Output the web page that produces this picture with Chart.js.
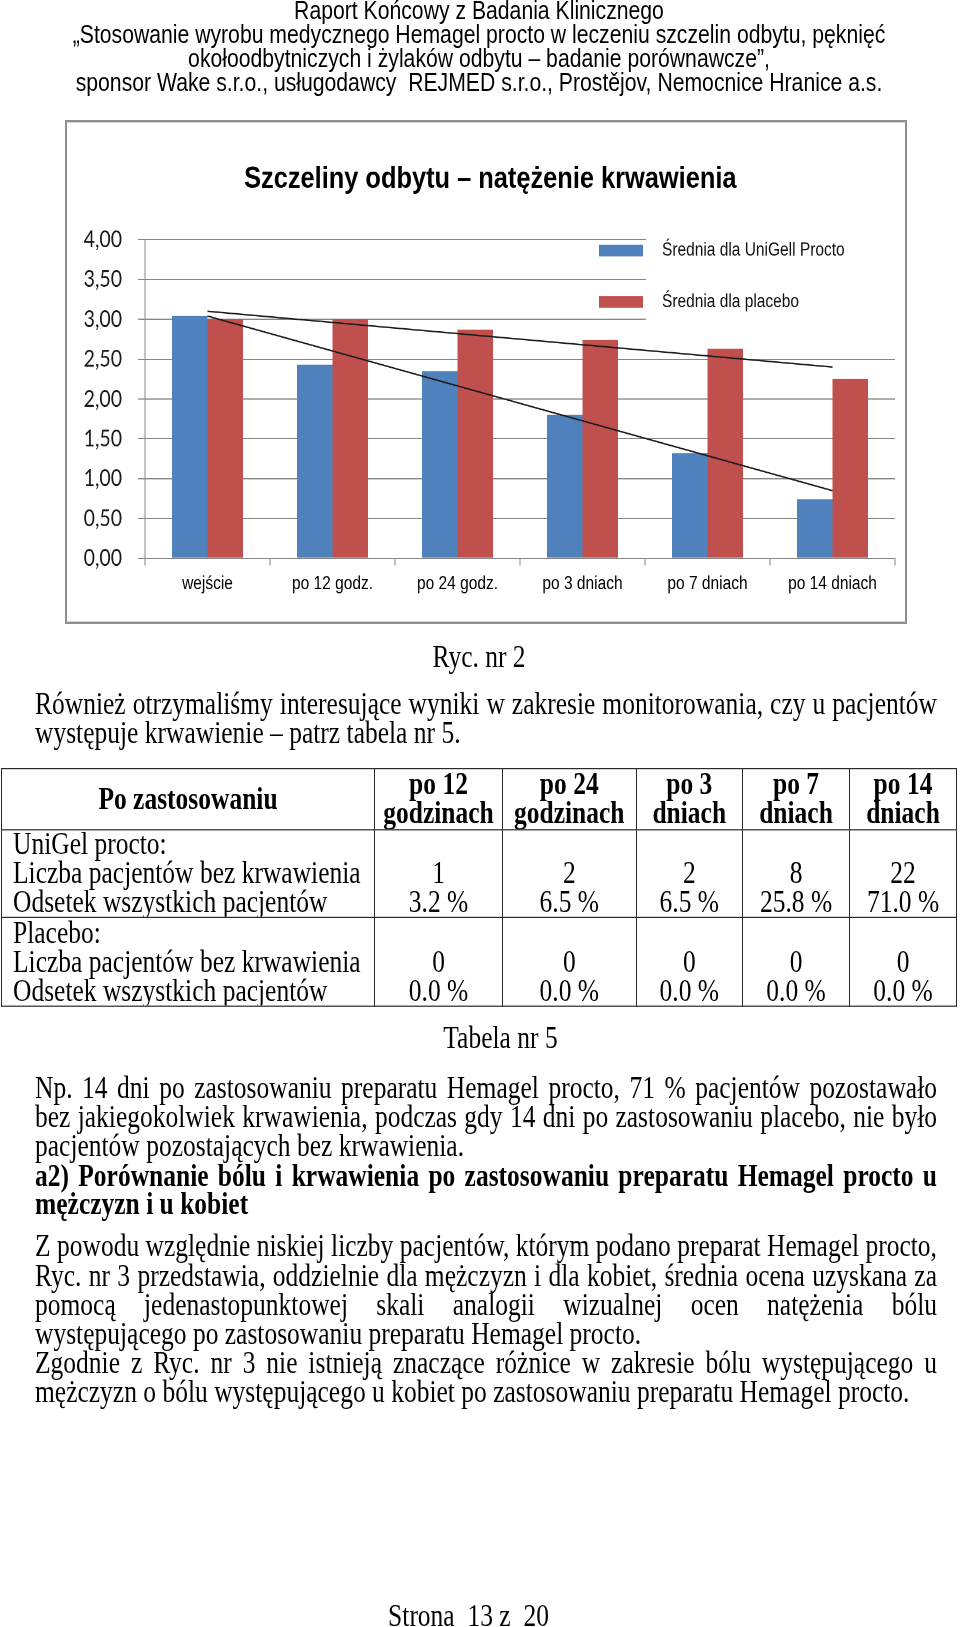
<!DOCTYPE html>
<html lang="pl">
<head>
<meta charset="utf-8">
<script src="https://cdn.jsdelivr.net/npm/chart.js@4/dist/chart.umd.min.js"></script>
<style>
html{margin:0;padding:0;background:#fff;overflow:hidden;}
body{margin:0;padding:0;background:#fff;width:960px;height:1627px;position:relative;}
#page{position:absolute;left:0;top:0;width:960px;height:1356px;transform:scaleY(1.2);transform-origin:0 0;color:#000;}
.hd{position:absolute;left:0;width:958px;text-align:center;font-family:"Liberation Sans",Arial,sans-serif;font-size:21.2px;line-height:20px;white-space:pre;}
.tx{position:absolute;left:35px;width:902px;font-family:"Liberation Serif","Times New Roman",serif;font-size:25.5px;line-height:24px;white-space:normal;}
.j{text-align:justify;text-align-last:justify;}
.b{font-weight:bold;}
.ctr{position:absolute;font-family:"Liberation Serif","Times New Roman",serif;font-size:25.5px;line-height:24px;text-align:center;white-space:pre;}
#frame{position:absolute;left:65px;top:100px;width:842px;height:420px;box-sizing:border-box;border:2px solid #8f8f8f;background:#fff;}
#c{display:block;width:838px;height:416px;}
#tb{position:absolute;left:1px;top:639.5px;width:955px;border-collapse:collapse;table-layout:fixed;font-family:"Liberation Serif","Times New Roman",serif;font-size:25.5px;line-height:24px;}
#tb td,#tb th{border:1.5px solid #2a2a2a;padding:0;vertical-align:middle;text-align:center;overflow:hidden;white-space:nowrap;}
#tb th{font-weight:bold;}
#tb td.c1{text-align:left;padding-left:11px;}
</style>
</head>
<body>
<div id="page">
  <div class="hd" style="top:-1.3px">Raport Końcowy z Badania Klinicznego</div>
  <div class="hd" style="top:18.5px">„Stosowanie wyrobu medycznego Hemagel procto w leczeniu szczelin odbytu, pęknięć</div>
  <div class="hd" style="top:39.2px">okołoodbytniczych i żylaków odbytu – badanie porównawcze”,</div>
  <div class="hd" style="top:59.2px">sponsor Wake s.r.o., usługodawcy  REJMED s.r.o., Prostějov, Nemocnice Hranice a.s.</div>

  <div id="frame"><canvas id="c" width="838" height="416"></canvas></div>

  <div class="ctr" style="left:379px;width:200px;top:536px">Ryc. nr 2</div>
  <div class="tx j" style="top:575px">Również otrzymaliśmy interesujące wyniki w zakresie monitorowania, czy u pacjentów</div>
  <div class="tx" style="top:599px">występuje krwawienie – patrz tabela nr 5.</div>

  <table id="tb"></table>

  <div class="ctr" style="left:400px;width:201px;top:853px">Tabela nr 5</div>

  <div class="tx j" style="top:894.7px">Np. 14 dni po zastosowaniu preparatu Hemagel procto, 71 % pacjentów pozostawało</div>
  <div class="tx j" style="top:919px">bez jakiegokolwiek krwawienia, podczas gdy 14 dni po zastosowaniu placebo, nie było</div>
  <div class="tx" style="top:943.4px">pacjentów pozostających bez krwawienia.</div>
  <div class="tx j b" style="top:967.8px">a2) Porównanie bólu i krwawienia po zastosowaniu preparatu Hemagel procto u</div>
  <div class="tx b" style="top:992px">mężczyzn i u kobiet</div>
  <div class="tx j" style="top:1027.3px">Z powodu względnie niskiej liczby pacjentów, którym podano preparat Hemagel procto,</div>
  <div class="tx j" style="top:1051.7px">Ryc. nr 3 przedstawia, oddzielnie dla mężczyzn i dla kobiet, średnia ocena uzyskana za</div>
  <div class="tx j" style="top:1076px">pomocą jedenastopunktowej skali analogii wizualnej ocen natężenia bólu</div>
  <div class="tx" style="top:1100px">występującego po zastosowaniu preparatu Hemagel procto.</div>
  <div class="tx j" style="top:1124.1px">Zgodnie z Ryc. nr 3 nie istnieją znaczące różnice w zakresie bólu występującego u</div>
  <div class="tx" style="top:1148.4px">mężczyzn o bólu występującego u kobiet po zastosowaniu preparatu Hemagel procto.</div>

  <div class="ctr" style="left:368.5px;width:200px;top:1334.7px">Strona  13 z  20</div>
</div>

<script>
// ---- chart data ----
const categories = ['wejście', 'po 12 godz.', 'po 24 godz.', 'po 3 dniach', 'po 7 dniach', 'po 14 dniach'];
const seriesLabels = ['Średnia dla UniGell Procto', 'Średnia dla placebo'];
const uniGellMeans = [3.04, 2.43, 2.35, 1.80, 1.32, 0.74];
const placeboMeans = [3.00, 3.00, 2.87, 2.74, 2.63, 2.25];
const uniGellTrend = [3.04, null, null, null, null, 0.85];
const placeboTrend = [3.10, null, null, null, null, 2.40];
const yTickLabels = ['0,00', '0,50', '1,00', '1,50', '2,00', '2,50', '3,00', '3,50', '4,00'];
const chartTitle = 'Szczeliny odbytu – natężenie krwawienia';

// ---- table data ----
const tableHeadFirst = 'Po zastosowaniu';
const tableCols = [['po 12', 'godzinach'], ['po 24', 'godzinach'], ['po 3', 'dniach'], ['po 7', 'dniach'], ['po 14', 'dniach']];
const groupNames = ['UniGel procto:', 'Placebo:'];
const rowNames = ['Liczba pacjentów bez krwawienia', 'Odsetek wszystkich pacjentów'];
const uniCounts = ['1', '2', '2', '8', '22'];
const uniPercents = ['3.2 %', '6.5 %', '6.5 %', '25.8 %', '71.0 %'];
const placeboCounts = ['0', '0', '0', '0', '0'];
const placeboPercents = ['0.0 %', '0.0 %', '0.0 %', '0.0 %', '0.0 %'];

// build table
(function () {
  const tb = document.getElementById('tb');
  const widths = [373, 128, 133.5, 106.5, 107, 107];
  let html = '<colgroup>' + widths.map(w => '<col style="width:' + w + 'px">').join('') + '</colgroup>';
  html += '<tr style="height:51px"><th>' + tableHeadFirst + '</th>' +
    tableCols.map(c => '<th>' + c[0] + '<br>' + c[1] + '</th>').join('') + '</tr>';
  const groups = [[uniCounts, uniPercents, 73.5], [placeboCounts, placeboPercents, 74]];
  groups.forEach((g, gi) => {
    html += '<tr style="height:' + g[2] + 'px"><td class="c1">' + groupNames[gi] + '<br>' + rowNames[0] + '<br>' + rowNames[1] + '</td>' +
      g[0].map((v, i) => '<td>&nbsp;<br>' + v + '<br>' + g[1][i] + '</td>').join('') + '</tr>';
  });
  tb.innerHTML = html;
})();

// keep justified lines on one line
document.querySelectorAll('.j').forEach(el => {
  let fs = 25.5;
  while (el.scrollHeight > 30 && fs > 18) { fs -= 0.25; el.style.fontSize = fs + 'px'; }
});

const AXIS = '#868686';
const SANS = '"Liberation Sans", Arial, sans-serif';

const boxLegend = {
  id: 'boxLegend',
  beforeDatasetsDraw(chart) {
    const c = chart.ctx;
    c.save();
    c.fillStyle = '#ffffff';
    c.fillRect(579, 86, 255, 94);
    c.restore();
  },
  afterDatasetsDraw(chart) {
    const c = chart.ctx;
    c.save();
    c.font = '15.5px ' + SANS;
    c.textBaseline = 'middle';
    c.textAlign = 'left';
    const rowsY = [106.8, 149.5];
    [0, 1].forEach(i => {
      const ds = chart.data.datasets[i];
      c.fillStyle = ds.backgroundColor;
      c.fillRect(532, rowsY[i] - 4.9, 44, 9.8);
      c.fillStyle = '#111';
      c.fillText(ds.label, 595, rowsY[i]);
    });
    c.restore();
  }
};

new Chart(document.getElementById('c'), {
  type: 'bar',
  data: {
    labels: categories,
    datasets: [
      { type: 'bar', label: seriesLabels[0], data: uniGellMeans, yAxisID: 'y', backgroundColor: '#4f81bd', borderWidth: 0, categoryPercentage: 0.568, barPercentage: 1, order: 2 },
      { type: 'bar', label: seriesLabels[1], data: placeboMeans, yAxisID: 'y', backgroundColor: '#c0504d', borderWidth: 0, categoryPercentage: 0.568, barPercentage: 1, order: 2 },
      { type: 'line', label: 'Trend UniGell Procto', data: uniGellTrend, yAxisID: 'y', borderColor: '#1c1c1c', borderWidth: 1.3, pointRadius: 0, spanGaps: true, fill: false, order: 1 },
      { type: 'line', label: 'Trend placebo', data: placeboTrend, yAxisID: 'y', borderColor: '#1c1c1c', borderWidth: 1.3, pointRadius: 0, spanGaps: true, fill: false, order: 1 }
    ]
  },
  options: {
    responsive: false,
    animation: false,
    devicePixelRatio: 2,
    layout: { padding: { left: 8.6, right: 0, top: 0, bottom: 0 } },
    plugins: {
      legend: { display: false },
      tooltip: { enabled: false },
      title: {
        display: true,
        text: chartTitle,
        color: '#000',
        font: { family: SANS, size: 25.4, weight: 'bold', lineHeight: 1.2 },
        padding: { top: 32.4, bottom: 34.76 }
      }
    },
    scales: {
      x: {
        offset: true,
        grid: { offset: true, drawOnChartArea: false, drawTicks: true, tickLength: 6, color: AXIS, lineWidth: 1 },
        border: { display: true, color: AXIS, width: 1 },
        ticks: { color: '#000', font: { family: SANS, size: 15.5 }, padding: 6.1, maxRotation: 0, autoSkip: false },
        afterFit(s) { s.height = 52.7; }
      },
      y: {
        position: 'left',
        min: 0,
        max: 4,
        grid: { color: AXIS, lineWidth: 1, tickLength: 7 },
        border: { display: true, color: AXIS, width: 1 },
        ticks: { stepSize: 0.5, padding: 16, color: '#1a1a1a', font: { family: 'Lato, "Open Sans", sans-serif', size: 19.5 }, callback: (v, i) => yTickLabels[i] },
        afterFit(s) { s.width = 69.4; }
      },
      y2: {
        position: 'right',
        display: true,
        grid: { display: false, drawTicks: false },
        border: { display: false },
        ticks: { display: false },
        afterFit(s) { s.width = 10; }
      }
    }
  },
  plugins: [boxLegend]
});
</script>
</body>
</html>
